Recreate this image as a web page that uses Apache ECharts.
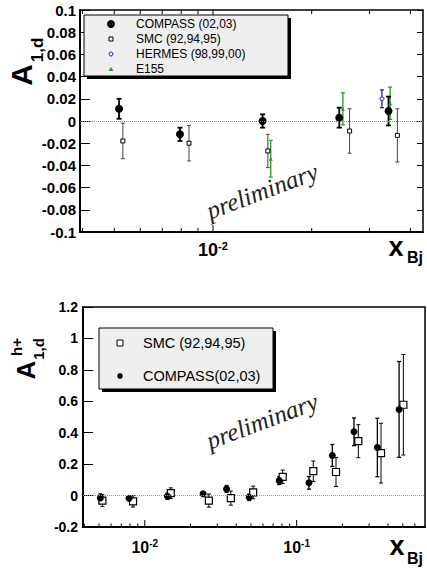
<!DOCTYPE html>
<html><head><meta charset="utf-8">
<script src="https://cdn.jsdelivr.net/npm/echarts@6/dist/echarts.min.js"></script>
<style>html,body{margin:0;padding:0;background:#fff}#c{width:427px;height:573px}</style>
</head><body><div id="c"></div>
<script>
// ---------- Top panel: A_1,d ----------
const topCompassX   = [0.00517, 0.00793, 0.01417, 0.02427, 0.0343];
const topCompassY   = [0.011, -0.012, 0.000, 0.003, 0.009];
const topCompassErr = [0.009, 0.006, 0.006, 0.009, 0.013];
const topSmcX   = [0.00531, 0.00845, 0.0147, 0.0261, 0.0365];
const topSmcY   = [-0.018, -0.020, -0.027, -0.009, -0.013];
const topSmcErr = [0.016, 0.016, 0.015, 0.020, 0.024];
const topHermesX   = [0.03275];
const topHermesY   = [0.020];
const topHermesErr = [0.008];
const topE155X   = [0.0150, 0.0249, 0.0347];
const topE155Y   = [-0.034, 0.011, 0.016];
const topE155Err = [0.0165, 0.0144, 0.0145];
const topLegend = ['COMPASS (02,03)', 'SMC (92,94,95)', 'HERMES (98,99,00)', 'E155'];
const topXMajor = [0.01];
const topXMinor = [0.004, 0.005, 0.006, 0.007, 0.008, 0.009, 0.02, 0.03, 0.04];

// ---------- Bottom panel: A^h+_1,d ----------
const botCompassX   = [0.00510, 0.00788, 0.01411, 0.02423, 0.03457, 0.04869, 0.0768, 0.1205, 0.1717, 0.2385, 0.340, 0.4726];
const botCompassY   = [-0.015, -0.017, -0.004, 0.011, 0.042, -0.011, 0.095, 0.081, 0.255, 0.406, 0.306, 0.548];
const botCompassErr = [0.025, 0.015, 0.020, 0.012, 0.022, 0.020, 0.025, 0.040, 0.070, 0.088, 0.186, 0.305];
const botSmcX   = [0.00526, 0.00837, 0.01484, 0.02642, 0.03688, 0.05173, 0.0809, 0.1287, 0.1816, 0.2547, 0.3594, 0.5043];
const botSmcY   = [-0.032, -0.037, 0.015, -0.032, -0.016, 0.020, 0.119, 0.155, 0.150, 0.346, 0.270, 0.578];
const botSmcErr = [0.038, 0.036, 0.034, 0.042, 0.045, 0.040, 0.043, 0.065, 0.092, 0.105, 0.190, 0.320];
const botLegend = ['SMC (92,94,95)', 'COMPASS(02,03)'];
const botXMajor = [0.01, 0.1];
const botXMinor = [0.004, 0.005, 0.006, 0.007, 0.008, 0.009, 0.02, 0.03, 0.04, 0.05, 0.06, 0.07, 0.08, 0.09, 0.2, 0.3, 0.4, 0.5, 0.6];

const FONT = '"Liberation Sans", Arial, Helvetica, sans-serif';
const zip = (a, b) => a.map((v, i) => [v, b[i]]);
const zip3 = (a, b, c) => a.map((v, i) => [v, b[i], c[i]]);

function errRender(color, width, cap) {
  return function (params, api) {
    const x = api.value(0), y = api.value(1), e = api.value(2);
    const t = api.coord([x, y + e]), b = api.coord([x, y - e]);
    const st = { stroke: color, lineWidth: width };
    return { type: 'group', children: [
      { type: 'line', shape: { x1: t[0], y1: t[1], x2: b[0], y2: b[1] }, style: st },
      { type: 'line', shape: { x1: t[0] - cap, y1: t[1], x2: t[0] + cap, y2: t[1] }, style: st },
      { type: 'line', shape: { x1: b[0] - cap, y1: b[1], x2: b[0] + cap, y2: b[1] }, style: st }
    ]};
  };
}
function tickRender(len, mirror) {
  return function (params, api) {
    const cs = params.coordSys;
    const x = api.coord([api.value(0), 0])[0];
    const yb = cs.y + cs.height;
    const st = { stroke: '#000', lineWidth: 1 };
    const ch = [{ type: 'line', shape: { x1: x, y1: yb, x2: x, y2: yb - len }, style: st }];
    if (mirror) ch.push({ type: 'line', shape: { x1: x, y1: cs.y, x2: x, y2: cs.y + len }, style: st });
    return { type: 'group', children: ch };
  };
}
function logLabel(v) {
  const l = Math.log10(v), e = Math.round(l);
  if (Math.abs(l - e) > 1e-6) return '';
  return '{b|10}{s|' + e + '}';
}

const chart = echarts.init(document.getElementById('c'), null, { renderer: 'svg', width: 427, height: 573 });

const axisLine = { show: true, onZero: false, lineStyle: { color: '#000', width: 2 } };

const option = {
  animation: false,
  backgroundColor: '#fff',
  textStyle: { fontFamily: FONT },
  grid: [
    { left: 80, top: 10, width: 343, height: 222, show: true, borderColor: '#000', borderWidth: 1.5, backgroundColor: 'transparent', containLabel: false, outerBoundsMode: 'none' },
    { left: 83, top: 307, width: 342, height: 220, show: true, borderColor: '#000', borderWidth: 1.5, backgroundColor: 'transparent', containLabel: false, outerBoundsMode: 'none' }
  ],
  xAxis: [
    { type: 'log', logBase: 10, gridIndex: 0, position: 'bottom', min: 0.00393, max: 0.0437,
      axisLine: axisLine, axisTick: { show: false }, splitLine: { show: false }, minorTick: { show: false },
      axisLabel: { margin: 8, formatter: logLabel, showMinLabel: false, showMaxLabel: false,
        rich: { b: { fontFamily: FONT, fontWeight: 'bold', fontSize: 18, lineHeight: 20, color: '#000' },
                s: { fontFamily: FONT, fontWeight: 'bold', fontSize: 11, lineHeight: 11, verticalAlign: 'top', color: '#000' } } } },
    { type: 'log', logBase: 10, gridIndex: 1, position: 'bottom', min: 0.00392, max: 0.70,
      axisLine: axisLine, axisTick: { show: false }, splitLine: { show: false }, minorTick: { show: false },
      axisLabel: { margin: 11, formatter: logLabel, showMinLabel: false, showMaxLabel: false,
        rich: { b: { fontFamily: FONT, fontWeight: 'bold', fontSize: 16, lineHeight: 18, color: '#000' },
                s: { fontFamily: FONT, fontWeight: 'bold', fontSize: 10, lineHeight: 10, verticalAlign: 'top', color: '#000' } } } }
  ],
  yAxis: [
    { type: 'value', gridIndex: 0, position: 'left', min: -0.1, max: 0.1, interval: 0.02,
      axisLine: axisLine, axisTick: { show: true, inside: true, length: 10, lineStyle: { color: '#000', width: 1 } },
      splitLine: { show: false },
      axisLabel: { margin: 4, fontFamily: FONT, fontWeight: 'bold', fontSize: 15, color: '#000' } },
    { type: 'value', gridIndex: 0, position: 'right', min: -0.1, max: 0.1, interval: 0.02,
      axisLine: { show: false }, axisTick: { show: true, inside: true, length: 6, lineStyle: { color: '#000', width: 1 } },
      splitLine: { show: false }, axisLabel: { show: false } },
    { type: 'value', gridIndex: 1, position: 'left', min: -0.2, max: 1.2, interval: 0.2,
      axisLine: axisLine, axisTick: { show: true, inside: true, length: 10, lineStyle: { color: '#000', width: 1 } },
      splitLine: { show: false },
      axisLabel: { margin: 5, fontFamily: FONT, fontWeight: 'bold', fontSize: 14, color: '#000' } }
  ],
  series: [
    // ticks top panel
    { type: 'custom', xAxisIndex: 0, yAxisIndex: 0, data: topXMajor.map(v => [v, 0]), renderItem: tickRender(7, true), silent: true, z: 5,
      markLine: { silent: true, symbol: 'none', label: { show: false }, lineStyle: { type: 'dotted', color: '#888', width: 1 }, data: [{ yAxis: 0 }] } },
    { type: 'custom', xAxisIndex: 0, yAxisIndex: 0, data: topXMinor.map(v => [v, 0]), renderItem: tickRender(4, true), silent: true, z: 5 },
    // ticks bottom panel
    { type: 'custom', xAxisIndex: 1, yAxisIndex: 2, data: botXMajor.map(v => [v, 0]), renderItem: tickRender(7, false), silent: true, z: 5,
      markLine: { silent: true, symbol: 'none', label: { show: false }, lineStyle: { type: 'dotted', color: '#999', width: 1 }, data: [{ yAxis: 0 }] } },
    { type: 'custom', xAxisIndex: 1, yAxisIndex: 2, data: botXMinor.map(v => [v, 0]), renderItem: tickRender(3.5, false), silent: true, z: 5 },

    // top error bars
    { type: 'custom', xAxisIndex: 0, yAxisIndex: 0, data: zip3(topSmcX, topSmcY, topSmcErr), renderItem: errRender('#444', 1, 2), encode: { x: 0, y: 1 }, silent: true },
    { type: 'custom', xAxisIndex: 0, yAxisIndex: 0, data: zip3(topE155X, topE155Y, topE155Err), renderItem: errRender('#2a9a2a', 1.3, 2), encode: { x: 0, y: 1 }, silent: true },
    { type: 'custom', xAxisIndex: 0, yAxisIndex: 0, data: zip3(topHermesX, topHermesY, topHermesErr), renderItem: errRender('#1c1c9c', 1.3, 2), encode: { x: 0, y: 1 }, silent: true },
    { type: 'custom', xAxisIndex: 0, yAxisIndex: 0, data: zip3(topCompassX, topCompassY, topCompassErr), renderItem: errRender('#000', 1.8, 2.5), encode: { x: 0, y: 1 }, silent: true },
    // top markers
    { name: topLegend[1], type: 'scatter', xAxisIndex: 0, yAxisIndex: 0, data: zip(topSmcX, topSmcY), symbol: 'rect', symbolSize: 4, itemStyle: { color: '#fff', borderColor: '#000', borderWidth: 1, opacity: 1 }, silent: true, z: 3 },
    { name: topLegend[3], type: 'scatter', xAxisIndex: 0, yAxisIndex: 0, data: zip(topE155X, topE155Y), symbol: 'triangle', symbolSize: 4, itemStyle: { color: '#2a9a2a', opacity: 1 }, silent: true, z: 3 },
    { name: topLegend[2], type: 'scatter', xAxisIndex: 0, yAxisIndex: 0, data: zip(topHermesX, topHermesY), symbol: 'circle', symbolSize: 4, itemStyle: { color: '#fff', borderColor: '#1c1c9c', borderWidth: 1, opacity: 1 }, silent: true, z: 3 },
    { name: topLegend[0], type: 'scatter', xAxisIndex: 0, yAxisIndex: 0, data: zip(topCompassX, topCompassY), symbol: 'circle', symbolSize: 8, itemStyle: { color: '#000', opacity: 1 }, silent: true, z: 3 },

    // bottom error bars
    { type: 'custom', xAxisIndex: 1, yAxisIndex: 2, data: zip3(botSmcX, botSmcY, botSmcErr), renderItem: errRender('#000', 1, 2), encode: { x: 0, y: 1 }, silent: true },
    { type: 'custom', xAxisIndex: 1, yAxisIndex: 2, data: zip3(botCompassX, botCompassY, botCompassErr), renderItem: errRender('#000', 1.3, 2), encode: { x: 0, y: 1 }, silent: true },
    // bottom markers
    { name: botLegend[0], type: 'scatter', xAxisIndex: 1, yAxisIndex: 2, data: zip(botSmcX, botSmcY), symbol: 'rect', symbolSize: 7, itemStyle: { color: '#fff', borderColor: '#000', borderWidth: 1.2, opacity: 1 }, silent: true, z: 3 },
    { name: botLegend[1], type: 'scatter', xAxisIndex: 1, yAxisIndex: 2, data: zip(botCompassX, botCompassY), symbol: 'circle', symbolSize: 7, itemStyle: { color: '#000', opacity: 1 }, silent: true, z: 3 }
  ],
  graphic: [
    // top legend
    { type: 'rect', shape: { x: 87, y: 18, width: 204, height: 61 }, style: { fill: '#000' }, z: 10 },
    { type: 'rect', shape: { x: 84, y: 15, width: 204, height: 61 }, style: { fill: '#efefef', stroke: '#000', lineWidth: 1 }, z: 11 },
    { type: 'circle', shape: { cx: 111, cy: 24, r: 4 }, style: { fill: '#000' }, z: 12 },
    { type: 'rect', shape: { x: 109, y: 37, width: 4, height: 4 }, style: { fill: '#fff', stroke: '#000', lineWidth: 1 }, z: 12 },
    { type: 'circle', shape: { cx: 111, cy: 54, r: 2 }, style: { fill: '#fff', stroke: '#1c1c9c', lineWidth: 1 }, z: 12 },
    { type: 'polygon', shape: { points: [[111, 67], [113.5, 71], [108.5, 71]] }, style: { fill: '#2a9a2a' }, z: 12 },
    { type: 'text', x: 136, y: 24, style: { text: topLegend[0], font: '12px ' + FONT, fill: '#000', verticalAlign: 'middle' }, z: 12 },
    { type: 'text', x: 136, y: 39, style: { text: topLegend[1], font: '12px ' + FONT, fill: '#000', verticalAlign: 'middle' }, z: 12 },
    { type: 'text', x: 136, y: 54, style: { text: topLegend[2], font: '12px ' + FONT, fill: '#000', verticalAlign: 'middle' }, z: 12 },
    { type: 'text', x: 136, y: 69, style: { text: topLegend[3], font: '12px ' + FONT, fill: '#000', verticalAlign: 'middle' }, z: 12 },
    // bottom legend
    { type: 'rect', shape: { x: 102, y: 331, width: 174, height: 61 }, style: { fill: '#000' }, z: 10 },
    { type: 'rect', shape: { x: 99, y: 328, width: 174, height: 61 }, style: { fill: '#efefef', stroke: '#000', lineWidth: 1 }, z: 11 },
    { type: 'rect', shape: { x: 117, y: 340, width: 6, height: 6 }, style: { fill: '#fff', stroke: '#000', lineWidth: 1 }, z: 12 },
    { type: 'circle', shape: { cx: 120, cy: 376, r: 2.8 }, style: { fill: '#000' }, z: 12 },
    { type: 'text', x: 143, y: 343, style: { text: botLegend[0], font: '14.5px ' + FONT, fill: '#000', verticalAlign: 'middle' }, z: 12 },
    { type: 'text', x: 143, y: 376, style: { text: botLegend[1], font: '14.5px ' + FONT, fill: '#000', verticalAlign: 'middle' }, z: 12 },
    // preliminary
    { type: 'text', x: 262, y: 191, rotation: 0.36, style: { text: 'preliminary', font: 'italic 25px "Liberation Serif", "DejaVu Serif", serif', fill: '#222', align: 'center', verticalAlign: 'middle' }, z: 9 },
    { type: 'text', x: 262, y: 421, rotation: 0.36, style: { text: 'preliminary', font: 'italic 25px "Liberation Serif", "DejaVu Serif", serif', fill: '#222', align: 'center', verticalAlign: 'middle' }, z: 9 },
    // y titles
    { type: 'text', x: 21, y: 75, rotation: Math.PI / 2, style: { text: 'A', font: 'bold 30px ' + FONT, fill: '#000', align: 'center', verticalAlign: 'middle' }, z: 12 },
    { type: 'text', x: 37, y: 50, rotation: Math.PI / 2, style: { text: '1,d', font: 'bold 17px ' + FONT, fill: '#000', align: 'center', verticalAlign: 'middle' }, z: 12 },
    { type: 'text', x: 26, y: 370, rotation: Math.PI / 2, style: { text: 'A', font: 'bold 26px ' + FONT, fill: '#000', align: 'center', verticalAlign: 'middle' }, z: 12 },
    { type: 'text', x: 16, y: 347, rotation: Math.PI / 2, style: { text: 'h+', font: 'bold 15px ' + FONT, fill: '#000', align: 'center', verticalAlign: 'middle' }, z: 12 },
    { type: 'text', x: 38, y: 349, rotation: Math.PI / 2, style: { text: '1,d', font: 'bold 15px ' + FONT, fill: '#000', align: 'center', verticalAlign: 'middle' }, z: 12 },
    // x titles
    { type: 'text', x: 396, y: 247, style: { text: 'x', font: 'bold 27px ' + FONT, fill: '#000', align: 'center', verticalAlign: 'middle' }, z: 12 },
    { type: 'text', x: 415, y: 257, style: { text: 'Bj', font: 'bold 16px ' + FONT, fill: '#000', align: 'center', verticalAlign: 'middle' }, z: 12 },
    { type: 'text', x: 397, y: 546, style: { text: 'x', font: 'bold 27px ' + FONT, fill: '#000', align: 'center', verticalAlign: 'middle' }, z: 12 },
    { type: 'text', x: 415, y: 558, style: { text: 'Bj', font: 'bold 16px ' + FONT, fill: '#000', align: 'center', verticalAlign: 'middle' }, z: 12 }
  ]
};
chart.setOption(option);
</script>
</body></html>
